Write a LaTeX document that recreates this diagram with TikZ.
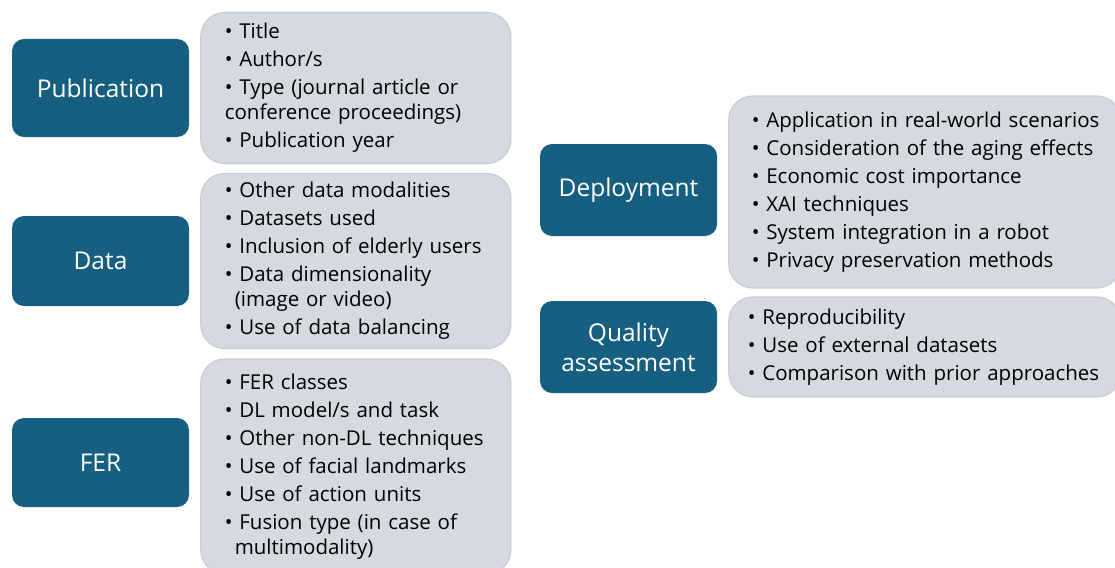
\documentclass[tikz,border=0pt]{standalone}
\usepackage{fontspec}
\setmainfont{Open Sans}
\usetikzlibrary{positioning}
\definecolor{headblue}{HTML}{175F80}
\definecolor{listgray}{HTML}{D5D9E0}
\definecolor{listedge}{HTML}{C8CDD4}
\newcommand{\itm}[1]{\mbox{\textbullet\ #1}}
\newcommand{\cnt}[1]{\mbox{\hspace*{10pt}#1}}

\begin{document}
\begin{tikzpicture}[
    x=1pt, y=-1pt,
    node distance=11pt,
    head/.style={fill=headblue, rounded corners=12pt, minimum width=177pt, text=white, font=\fontsize{24.5}{30}\selectfont, align=center},
    items/.style={draw=listedge, line width=1.2pt, fill=listgray, rounded corners=24pt, inner xsep=24pt, inner ysep=0pt, text width=262pt, align=left, font=\fontsize{20.5}{25}\selectfont}
]
\useasboundingbox (0,0) rectangle (1115,567);

% left column
\node[head, minimum height=98pt] (pub) at (100.5,88) {Publication};
\node[head, minimum height=90pt] (data) at (100.5,261) {Data};
\node[head, minimum height=89pt] (fer) at (100.5,462.5) {FER};

\node[items, minimum height=151pt, right=of pub] (publist) {\itm{Title}\\[3pt] \itm{Author/s}\\[3pt] \itm{Type (journal article or}\\ \mbox{conference proceedings)}\\[3pt] \itm{Publication year}};
\node[items, minimum height=175pt, right=of data] (datalist) {\itm{Other data modalities}\\[3pt] \itm{Datasets used}\\[3pt] \itm{Inclusion of elderly users}\\[3pt] \itm{Data dimensionality}\\ \cnt{(image or video)}\\[3pt] \itm{Use of data balancing}};
\node[items, minimum height=215pt, yshift=-4pt, right=of fer] (ferlist) {\itm{FER classes}\\[3pt] \itm{DL model/s and task}\\[3pt] \itm{Other non-DL techniques}\\[3pt] \itm{Use of facial landmarks}\\[3pt] \itm{Use of action units}\\[3pt] \itm{Fusion type (in case of}\\ \cnt{multimodality)}};

% right column
\node[head, minimum height=92pt] (deploy) at (628.5,190) {Deployment};
\node[head, minimum height=92pt] (quality) at (628.5,347) {Quality\\assessment};

\node[items, minimum height=192pt, text width=346pt, inner xsep=23pt, yshift=-2pt, right=of deploy] (deploylist) {\itm{Application in real-world scenarios}\\[3pt] \itm{Consideration of the aging effects}\\[3pt] \itm{Economic cost importance}\\[3pt] \itm{XAI techniques}\\[3pt] \itm{System integration in a robot}\\[3pt] \itm{Privacy preservation methods}};
\node[items, minimum height=100pt, text width=354pt, inner xsep=19pt, right=of quality] (qualitylist) {\itm{Reproducibility}\\[3pt] \itm{Use of external datasets}\\[3pt] \itm{Comparison with prior approaches}};
\end{tikzpicture}
\end{document}
